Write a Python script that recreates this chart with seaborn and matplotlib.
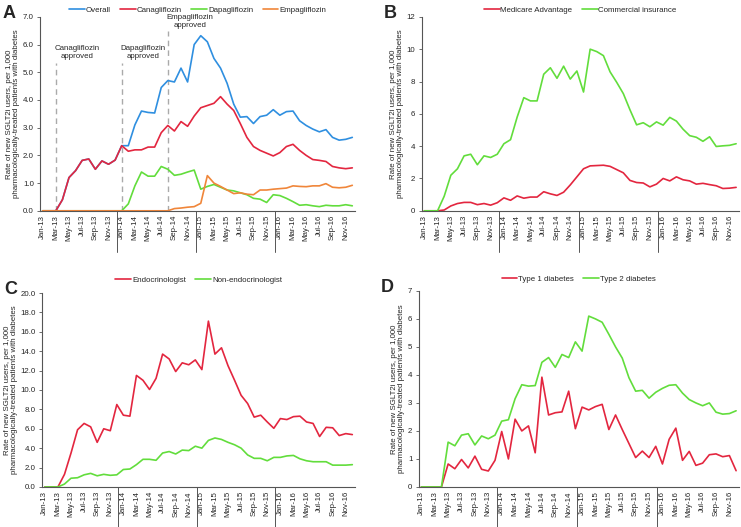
import numpy as np
import pandas as pd
import matplotlib
matplotlib.use("Agg")
import matplotlib.pyplot as plt
import matplotlib.transforms as mtransforms
import seaborn as sns

months = [f"{m}-{y}" for y in ["13", "14", "15", "16"]
          for m in ["Jan", "Feb", "Mar", "Apr", "May", "Jun", "Jul", "Aug", "Sep", "Oct", "Nov", "Dec"]]
tick_labels = months[::2]

# Panel A
overall = [0, 0, 0, 0.4, 1.2, 1.45, 1.82, 1.87, 1.5, 1.8, 1.68, 1.83,
           2.35, 2.35, 3.1, 3.6, 3.55, 3.53, 4.45, 4.7, 4.65, 5.15, 4.65, 6.0,
           6.32, 6.1, 5.5, 5.15, 4.6, 3.85, 3.38, 3.4, 3.15, 3.4, 3.45, 3.65,
           3.45, 3.58, 3.6, 3.25, 3.08, 2.95, 2.85, 2.93, 2.65, 2.55, 2.58, 2.65]
cana = [0, 0, 0, 0.4, 1.2, 1.45, 1.82, 1.87, 1.5, 1.8, 1.68, 1.83,
        2.35, 2.15, 2.2, 2.2, 2.3, 2.3, 2.82, 3.08, 2.88, 3.22, 3.05, 3.42,
        3.72, 3.8, 3.88, 4.12, 3.85, 3.62, 3.15, 2.65, 2.32, 2.18, 2.08, 1.98,
        2.1, 2.32, 2.4, 2.18, 2.0, 1.85, 1.82, 1.78, 1.6, 1.55, 1.52, 1.55]
dapa = [0] * 12 + [0, 0.25, 0.9, 1.4, 1.25, 1.25, 1.6, 1.5, 1.28, 1.32, 1.4, 1.47,
                   0.78, 0.88, 0.95, 0.85, 0.75, 0.72, 0.65, 0.58, 0.45, 0.42, 0.3, 0.58,
                   0.55, 0.45, 0.33, 0.2, 0.22, 0.18, 0.15, 0.2, 0.18, 0.18, 0.22, 0.18]
empa = [0] * 19 + [0, 0.08, 0.1, 0.13, 0.15,
                   0.27, 1.27, 1.0, 0.88, 0.75, 0.62, 0.65, 0.6, 0.58, 0.75, 0.75, 0.78,
                   0.8, 0.82, 0.9, 0.88, 0.87, 0.9, 0.9, 0.98, 0.85, 0.83, 0.85, 0.92]

# Panel B
medicare = [0, 0, 0, 0.05, 0.3, 0.45, 0.52, 0.52, 0.38, 0.45, 0.35, 0.5,
            0.8, 0.65, 0.92, 0.78, 0.85, 0.85, 1.18, 1.05, 0.95, 1.15, 1.6, 2.1,
            2.6, 2.78, 2.8, 2.82, 2.75, 2.55, 2.35, 1.88, 1.75, 1.72, 1.48, 1.65,
            2.0, 1.85, 2.1, 1.92, 1.85, 1.65, 1.7, 1.62, 1.55, 1.38, 1.4, 1.45]
commercial = [0, 0, 0, 0.9, 2.2, 2.6, 3.4, 3.5, 2.85, 3.4, 3.3, 3.5,
              4.15, 4.4, 5.8, 7.0, 6.8, 6.8, 8.45, 8.85, 8.2, 8.95, 8.15, 8.65,
              7.35, 10.0, 9.85, 9.6, 8.6, 7.95, 7.25, 6.25, 5.32, 5.45, 5.2, 5.5,
              5.3, 5.78, 5.55, 5.05, 4.65, 4.55, 4.3, 4.58, 3.98, 4.02, 4.05, 4.15]

# Panel C
endo = [0, 0, 0, 1.3, 3.5, 5.9, 6.55, 6.2, 4.6, 6.0, 5.8, 8.5,
        7.4, 7.3, 11.5, 11.0, 10.05, 11.2, 13.7, 13.2, 11.9, 12.8, 12.6, 13.1,
        12.1, 17.1, 13.7, 14.35, 12.5, 11.0, 9.45, 8.6, 7.2, 7.4, 6.7, 6.05,
        7.05, 6.95, 7.25, 7.3, 6.7, 6.55, 5.2, 6.15, 6.1, 5.3, 5.5, 5.4]
nonendo = [0, 0, 0, 0.3, 0.9, 0.95, 1.25, 1.4, 1.15, 1.3, 1.2, 1.25,
           1.8, 1.85, 2.3, 2.85, 2.85, 2.75, 3.5, 3.65, 3.4, 3.8, 3.75, 4.2,
           4.0, 4.8, 5.05, 4.9, 4.6, 4.35, 4.0, 3.3, 2.95, 2.95, 2.7, 3.05,
           3.05, 3.2, 3.25, 2.9, 2.7, 2.6, 2.6, 2.6, 2.25, 2.25, 2.25, 2.3]

# Panel D
type1 = [0, 0, 0, 0, 0.82, 0.65, 0.98, 0.68, 1.1, 0.63, 0.57, 0.95,
         1.98, 1.0, 2.42, 2.0, 2.18, 1.22, 3.92, 2.57, 2.65, 2.68, 3.42, 2.08,
         2.85, 2.75, 2.87, 2.95, 2.05, 2.57, 2.05, 1.55, 1.05, 1.28, 1.05, 1.45,
         0.82, 1.7, 2.1, 0.95, 1.27, 0.77, 0.85, 1.15, 1.18, 1.08, 1.12, 0.58]
type2 = [0, 0, 0, 0, 1.6, 1.47, 1.85, 1.9, 1.5, 1.82, 1.72, 1.85,
         2.35, 2.4, 3.15, 3.65, 3.6, 3.62, 4.45, 4.62, 4.27, 4.73, 4.62, 5.18,
         4.85, 6.1, 6.0, 5.88, 5.45, 5.0, 4.6, 3.9, 3.42, 3.45, 3.17, 3.38,
         3.52, 3.63, 3.65, 3.35, 3.12, 3.0, 2.9, 3.0, 2.67, 2.6, 2.62, 2.72]

BLUE = "#2F8FE0"
RED = "#E3263F"
GREEN = "#62DD3C"
ORANGE = "#F0863A"

sns.set_theme(style="white")
plt.rcParams["font.family"] = ["Liberation Sans", "DejaVu Sans"]

fig = plt.figure(figsize=(7.41, 5.27), dpi=100)
axA = fig.add_axes([0.054, 0.600, 0.425, 0.368])
axB = fig.add_axes([0.569, 0.600, 0.428, 0.368])
axC = fig.add_axes([0.057, 0.076, 0.422, 0.368])
axD = fig.add_axes([0.565, 0.076, 0.432, 0.372])

ylabel = "Rate of new SGLT2i users, per 1,000\npharmacologically-treated patients with diabetes"
FS = 5.7


def long_df(series):
    rows = []
    for name, vals in series.items():
        for i, v in enumerate(vals):
            rows.append({"month": i, "value": v, "series": name})
    return pd.DataFrame(rows)


def draw(ax, series, palette, ymax, ystep, fmt, letter, legend_y):
    df = long_df(series)
    sns.lineplot(data=df, x="month", y="value", hue="series",
                 hue_order=list(series.keys()), palette=palette,
                 linewidth=1.2, ax=ax, legend=True)
    sns.move_legend(ax, "lower center", bbox_to_anchor=(0.5, legend_y), ncol=len(series),
                    frameon=False, title=None, fontsize=FS, handlelength=2.0,
                    handletextpad=0.1, columnspacing=1.2, borderaxespad=0)
    ax.set_xlim(-0.4, 47.4)
    ax.set_ylim(0, ymax)
    yt = np.arange(0, ymax + ystep / 2, ystep)
    ax.set_yticks(yt)
    ax.set_yticklabels([fmt.format(v) for v in yt], fontsize=FS)
    ax.set_xticks(range(0, 48, 2))
    ax.set_xticklabels(tick_labels, rotation=90, fontsize=FS)
    ax.tick_params(axis="y", which="major", left=True, length=2.5, width=0.6,
                   color="#555555", pad=2)
    ax.tick_params(axis="x", which="major", bottom=False, length=0, pad=3)
    ax.set_xlabel("")
    ax.set_ylabel(ylabel, fontsize=FS, labelpad=2, linespacing=1.0)
    for s in ["top", "right"]:
        ax.spines[s].set_visible(False)
    for s in ["left", "bottom"]:
        ax.spines[s].set_color("#555555")
        ax.spines[s].set_linewidth(0.8)
    trans = mtransforms.blended_transform_factory(ax.transData, ax.transAxes)
    for xs in [11.25, 23.25, 35.25]:
        ax.plot([xs, xs], [0, -0.21], transform=trans, color="#555555",
                linewidth=0.7, clip_on=False)
    ax.text(-0.12, 1.06, letter, transform=ax.transAxes, fontsize=13,
            fontweight="bold", ha="left", va="top")


draw(axA, {"Overall": overall, "Canagliflozin": cana,
           "Dapagliflozin": dapa, "Empagliflozin": empa},
     {"Overall": BLUE, "Canagliflozin": RED, "Dapagliflozin": GREEN, "Empagliflozin": ORANGE},
     7.0, 1.0, "{:.1f}", "A", 1.0)
draw(axB, {"Medicare Advantage": medicare, "Commercial insurance": commercial},
     {"Medicare Advantage": RED, "Commercial insurance": GREEN},
     12, 2, "{:.0f}", "B", 1.0)
draw(axC, {"Endocrinologist": endo, "Non-endocrinologist": nonendo},
     {"Endocrinologist": RED, "Non-endocrinologist": GREEN},
     20.0, 2.0, "{:.1f}", "C", 1.03)
draw(axD, {"Type 1 diabetes": type1, "Type 2 diabetes": type2},
     {"Type 1 diabetes": RED, "Type 2 diabetes": GREEN},
     7, 1, "{:.0f}", "D", 1.025)

# Approval markers in panel A
approvals = [("Canagliflozin\napproved", 2, 5.35), ("Dapagliflozin\napproved", 12, 5.35),
             ("Empagliflozin\napproved", 19, 6.5)]
for label, xi, ytop in approvals:
    axA.plot([xi, xi], [0, ytop], color="#AAAAAA", linestyle=(0, (4, 3)),
             linewidth=1.0, zorder=1)
    axA.text(xi - 0.15, ytop + 0.08, label, ha="left", va="bottom", fontsize=FS,
             multialignment="center", linespacing=1.2, clip_on=False)

fig.savefig("out.png", dpi=100)
